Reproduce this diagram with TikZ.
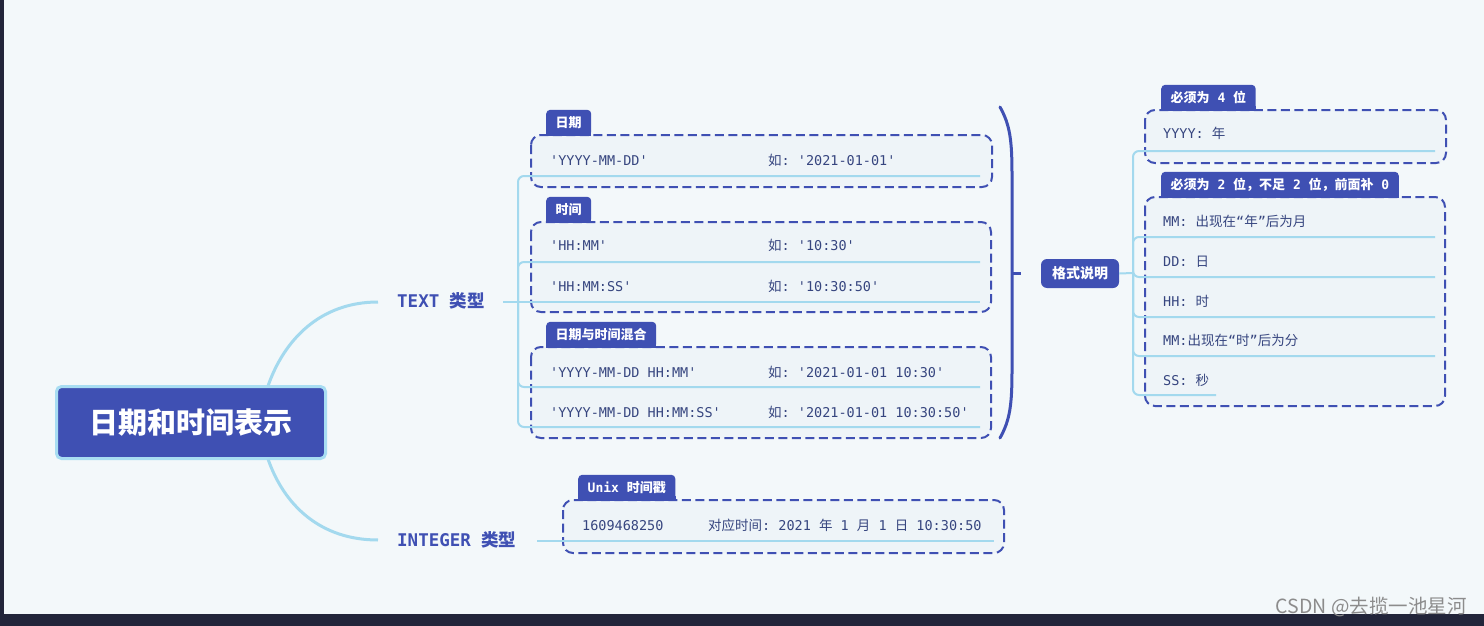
\documentclass[tikz,border=0pt]{standalone}
\usepackage{fontspec}
\setmonofont{DejaVu Sans Mono}
\newfontfamily\cjk{Noto Sans CJK SC}
\newcommand\C[1]{{\cjk #1}}
\definecolor{bgc}{HTML}{F3F8FA}
\definecolor{indig}{HTML}{3F50B3}
\definecolor{navy}{HTML}{36457F}
\definecolor{lblue}{HTML}{A3D9EE}
\definecolor{boxfill}{HTML}{EEF4F8}
\definecolor{rootbd}{HTML}{A8DDF2}
\definecolor{darkbar}{HTML}{22253A}
\tikzset{
  root/.style={fill=indig, draw=rootbd, line width=3pt, rounded corners=5pt,
    minimum width=269pt, minimum height=72pt, text=white,
    font=\cjk\bfseries\fontsize{29}{32}\selectfont},
  cat/.style={text=indig, inner sep=0pt, anchor=base west,
    font=\ttfamily\bfseries\fontsize{17.5}{20}\selectfont},
  tabbox/.style={fill=indig, text=white, inner xsep=9.5pt, inner ysep=0pt,
    minimum height=26pt, rounded corners=4pt, anchor=south west,
    font=\ttfamily\bfseries\fontsize{13}{15}\selectfont},
  fmtbox/.style={fill=indig, text=white, rounded corners=6pt,
    minimum width=78pt, minimum height=29pt, inner sep=0pt,
    font=\cjk\bfseries\fontsize{14}{16}\selectfont},
  item/.style={text=navy, inner sep=0pt, anchor=base west,
    font=\ttfamily\fontsize{13.5}{16}\selectfont},
  dbox/.style={draw=indig, fill=boxfill, line width=2pt, rounded corners=10pt,
    dash pattern=on 9pt off 4.5pt},
  branch/.style={draw=lblue, line width=3pt},
  ul/.style={draw=lblue, line width=2pt, rounded corners=6pt},
  brk/.style={draw=indig, line width=3pt, line cap=round},
}
\begin{document}
\begin{tikzpicture}[x=1pt,y=-1pt]
\useasboundingbox (0,0) rectangle (1484,626);
\fill[bgc] (0,0) rectangle (1484,626);
\fill[darkbar] (0,614) rectangle (1484,626);
\fill[darkbar] (0,0) rectangle (4,614);

% ---- dashed group boxes ----
\draw[dbox] (531,135) rectangle (992,187);
\draw[dbox] (531,222) rectangle (991,312);
\draw[dbox] (531,347) rectangle (991,438);
\draw[dbox] (563,500) rectangle (1004,553);
\draw[dbox] (1145,110) rectangle (1446,163);
\draw[dbox] (1145,197) rectangle (1445,406);

% ---- tabs ----
\node[tabbox] (tabA) at (546,136) {\C{日期}};
\node[tabbox] (tabB) at (546,223) {\C{时间}};
\node[tabbox] (tabC) at (546,348) {\C{日期与时间混合}};
\node[tabbox] (tabD) at (578,501) {Unix \C{时间戳}};
\node[tabbox] (tabE) at (1161,111) {\C{必须为} 4 \C{位}};
\node[tabbox] (tabF) at (1161,198) {\C{必须为} 2 \C{位，不足} 2 \C{位，前面补} 0};
\foreach \t in {tabA,tabB,tabC,tabD,tabE,tabF}{
  \fill[indig] (\t.south west) rectangle ([yshift=5pt]\t.south east);
}

% ---- root and categories ----
\node[root] (root) at (191,422.5) {日期和时间表示};
\node[cat] (txt) at (397,307) {TEXT \C{类型}};
\node[cat] (int) at (397,546) {INTEGER \C{类型}};

\coordinate (rtop) at (268,386);
\coordinate (rbot) at (268,459);
\coordinate (ctxt) at (378,302);
\coordinate (cint) at (378,540);
\draw[branch] (rtop) .. controls (284,340) and (320,302) .. (ctxt);
\draw[branch] (rbot) .. controls (284,505) and (320,540) .. (cint);

% ---- TEXT tree ----
\coordinate (t0) at (503,302);
\coordinate (J1) at (518,302);
\coordinate (u1) at (980,176);
\coordinate (u2) at (980,262);
\coordinate (u3) at (980,302);
\coordinate (u4) at (980,387);
\coordinate (u5) at (980,427);
\draw[ul] (t0) -- (J1);
\draw[ul] (J1) |- (u1);
\draw[ul] (J1) |- (u2);
\draw[ul] (J1) -- (u3);
\draw[ul] (J1) |- (u4);
\draw[ul] (J1) |- (u5);

% ---- INTEGER line ----
\coordinate (i0) at (537,541);
\coordinate (i1) at (994,541);
\draw[ul] (i0) -- (i1);

% ---- bracket ----
\coordinate (bt) at (1000,107);
\coordinate (bb) at (1000,438);
\coordinate (bm) at (1012,273);
\coordinate (bk) at (1021,273);
\draw[brk] (bt) .. controls (1010,125) and (1012,140) .. (1012,175) -- (1012,370) .. controls (1012,405) and (1010,420) .. (bb);
\draw[brk, line cap=butt] (bm) -- (bk);

% ---- format node and tree ----
\node[fmtbox] (fmt) at (1080,273.5) {格式说明};
\coordinate (J2) at (1133,273);
\coordinate (r1) at (1435,151);
\coordinate (r2) at (1435,237);
\coordinate (r3) at (1435,277);
\coordinate (r4) at (1435,317);
\coordinate (r5) at (1435,356);
\coordinate (r6) at (1216,395);
\draw[ul] (fmt.east) -- (J2);
\draw[ul] (J2) |- (r1);
\draw[ul] (J2) |- (r2);
\draw[ul] (J2) |- (r3);
\draw[ul] (J2) |- (r4);
\draw[ul] (J2) |- (r5);
\draw[ul] (J2) |- (r6);

% ---- items ----
\node[item] (a1) at (550,165) {'YYYY-MM-DD'};
\node[item] (b1) at (768,165) {\C{如}: '2021-01-01'};
\node[item] (a2) at (550,250) {'HH:MM'};
\node[item] (b2) at (768,250) {\C{如}: '10:30'};
\node[item] (a3) at (550,291) {'HH:MM:SS'};
\node[item] (b3) at (768,291) {\C{如}: '10:30:50'};
\node[item] (a4) at (550,377) {'YYYY-MM-DD HH:MM'};
\node[item] (b4) at (768,377) {\C{如}: '2021-01-01 10:30'};
\node[item] (a5) at (550,417) {'YYYY-MM-DD HH:MM:SS'};
\node[item] (b5) at (768,417) {\C{如}: '2021-01-01 10:30:50'};

\node[item] (c1) at (582,530) {1609468250};
\node[item] (c2) at (708,530) {\C{对应时间}: 2021 \C{年} 1 \C{月} 1 \C{日} 10:30:50};

\node[item] (f1) at (1163,139) {YYYY: \C{年}};
\node[item] (f2) at (1163,226) {MM: \C{出现在}“\C{年}”\C{后为月}};
\node[item] (f3) at (1163,266) {DD: \C{日}};
\node[item] (f4) at (1163,306) {HH: \C{时}};
\node[item] (f5) at (1163,345) {MM:\C{出现在}“\C{时}”\C{后为分}};
\node[item] (f6) at (1163,385) {SS: \C{秒}};

% ---- watermark ----
\node[anchor=base east, text=black!45, inner sep=0pt,
  font=\cjk\fontsize{19.5}{21}\selectfont] (wm) at (1467,613) {CSDN @去揽一池星河};
\end{tikzpicture}
\end{document}
